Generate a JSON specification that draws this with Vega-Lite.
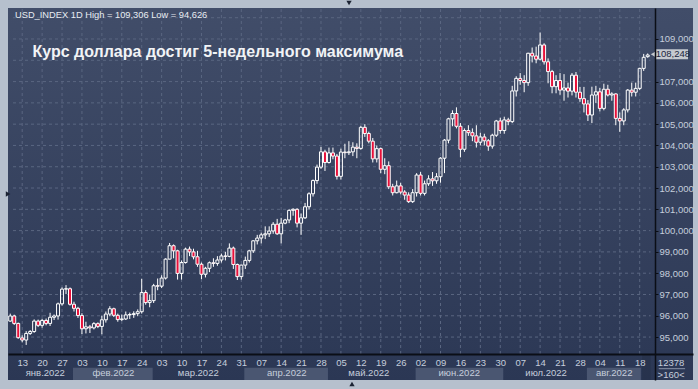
{
  "$schema": "https://vega.github.io/schema/vega-lite/v6.json",
  "width": 685,
  "height": 372,
  "autosize": "none",
  "padding": {"left": 8, "top": 8, "right": 5, "bottom": 9},
  "background": "#b6c0cd",
  "view": {
    "stroke": null,
    "fill": {"gradient": "linear", "x1": 0, "y1": 0, "x2": 0, "y2": 1,
      "stops": [{"offset": 0, "color": "#414d69"}, {"offset": 0.93, "color": "#2d3956"}, {"offset": 1, "color": "#2b3754"}]}
  },
  "config": {"font": "Liberation Sans"},
  "resolve": {"axis": {"x": "independent", "y": "independent"}},
  "data": {"values": [{"one": 1}]},
  "datasets": {
    "ohlc": [
      {"i":0,"d":"2022-01-10","o":95.75,"h":96.10,"l":95.72,"c":95.99},
      {"i":1,"d":"2022-01-11","o":95.99,"h":96.05,"l":95.57,"c":95.64},
      {"i":2,"d":"2022-01-12","o":95.64,"h":95.68,"l":94.92,"c":94.97},
      {"i":3,"d":"2022-01-13","o":94.96,"h":95.08,"l":94.75,"c":94.86},
      {"i":4,"d":"2022-01-14","o":94.86,"h":95.28,"l":94.63,"c":95.17},
      {"i":5,"d":"2022-01-17","o":95.17,"h":95.33,"l":95.10,"c":95.26},
      {"i":6,"d":"2022-01-18","o":95.26,"h":95.83,"l":95.20,"c":95.75},
      {"i":7,"d":"2022-01-19","o":95.75,"h":95.82,"l":95.47,"c":95.55},
      {"i":8,"d":"2022-01-20","o":95.55,"h":95.86,"l":95.44,"c":95.78},
      {"i":9,"d":"2022-01-21","o":95.78,"h":95.87,"l":95.55,"c":95.64},
      {"i":10,"d":"2022-01-24","o":95.64,"h":96.14,"l":95.52,"c":95.93},
      {"i":11,"d":"2022-01-25","o":95.93,"h":96.06,"l":95.80,"c":95.99},
      {"i":12,"d":"2022-01-26","o":95.99,"h":96.62,"l":95.82,"c":96.56},
      {"i":13,"d":"2022-01-27","o":96.56,"h":97.33,"l":96.48,"c":97.25},
      {"i":14,"d":"2022-01-28","o":97.25,"h":97.44,"l":97.02,"c":97.27},
      {"i":15,"d":"2022-01-31","o":97.27,"h":97.33,"l":96.48,"c":96.54},
      {"i":16,"d":"2022-02-01","o":96.54,"h":96.66,"l":96.20,"c":96.35},
      {"i":17,"d":"2022-02-02","o":96.35,"h":96.42,"l":95.90,"c":96.01},
      {"i":18,"d":"2022-02-03","o":96.01,"h":96.12,"l":95.14,"c":95.39},
      {"i":19,"d":"2022-02-04","o":95.39,"h":95.72,"l":95.17,"c":95.48},
      {"i":20,"d":"2022-02-07","o":95.48,"h":95.57,"l":95.19,"c":95.43},
      {"i":21,"d":"2022-02-08","o":95.43,"h":95.70,"l":95.36,"c":95.63},
      {"i":22,"d":"2022-02-09","o":95.63,"h":95.69,"l":95.42,"c":95.50},
      {"i":23,"d":"2022-02-10","o":95.50,"h":96.00,"l":95.13,"c":95.81},
      {"i":24,"d":"2022-02-11","o":95.81,"h":96.20,"l":95.68,"c":96.08},
      {"i":25,"d":"2022-02-14","o":96.08,"h":96.45,"l":95.98,"c":96.33},
      {"i":26,"d":"2022-02-15","o":96.33,"h":96.38,"l":95.94,"c":96.02},
      {"i":27,"d":"2022-02-16","o":96.02,"h":96.10,"l":95.72,"c":95.82},
      {"i":28,"d":"2022-02-17","o":95.82,"h":96.06,"l":95.75,"c":95.85},
      {"i":29,"d":"2022-02-18","o":95.85,"h":96.20,"l":95.80,"c":96.04},
      {"i":30,"d":"2022-02-21","o":96.04,"h":96.15,"l":95.85,"c":96.06},
      {"i":31,"d":"2022-02-22","o":96.06,"h":96.21,"l":95.90,"c":96.10},
      {"i":32,"d":"2022-02-23","o":96.10,"h":96.30,"l":95.98,"c":96.19},
      {"i":33,"d":"2022-02-24","o":96.19,"h":97.74,"l":96.10,"c":97.09},
      {"i":34,"d":"2022-02-25","o":97.09,"h":97.20,"l":96.52,"c":96.62},
      {"i":35,"d":"2022-02-28","o":96.62,"h":97.00,"l":96.40,"c":96.71},
      {"i":36,"d":"2022-03-01","o":96.71,"h":97.50,"l":96.60,"c":97.41},
      {"i":37,"d":"2022-03-02","o":97.41,"h":97.75,"l":97.20,"c":97.39},
      {"i":38,"d":"2022-03-03","o":97.39,"h":97.90,"l":97.30,"c":97.77},
      {"i":39,"d":"2022-03-04","o":97.77,"h":98.70,"l":97.70,"c":98.66},
      {"i":40,"d":"2022-03-07","o":98.66,"h":99.42,"l":98.65,"c":99.29},
      {"i":41,"d":"2022-03-08","o":99.29,"h":99.35,"l":98.70,"c":99.05},
      {"i":42,"d":"2022-03-09","o":99.05,"h":99.10,"l":97.70,"c":97.99},
      {"i":43,"d":"2022-03-10","o":97.99,"h":98.60,"l":97.70,"c":98.50},
      {"i":44,"d":"2022-03-11","o":98.50,"h":99.20,"l":98.45,"c":99.13},
      {"i":45,"d":"2022-03-14","o":99.13,"h":99.25,"l":98.80,"c":99.00},
      {"i":46,"d":"2022-03-15","o":99.00,"h":99.15,"l":98.65,"c":98.77},
      {"i":47,"d":"2022-03-16","o":98.77,"h":99.05,"l":98.30,"c":98.42},
      {"i":48,"d":"2022-03-17","o":98.42,"h":98.50,"l":97.72,"c":97.95},
      {"i":49,"d":"2022-03-18","o":97.95,"h":98.30,"l":97.80,"c":98.23},
      {"i":50,"d":"2022-03-21","o":98.23,"h":98.55,"l":98.05,"c":98.49},
      {"i":51,"d":"2022-03-22","o":98.49,"h":98.70,"l":98.30,"c":98.46},
      {"i":52,"d":"2022-03-23","o":98.46,"h":98.80,"l":98.35,"c":98.62},
      {"i":53,"d":"2022-03-24","o":98.62,"h":98.92,"l":98.50,"c":98.81},
      {"i":54,"d":"2022-03-25","o":98.81,"h":99.00,"l":98.60,"c":98.79},
      {"i":55,"d":"2022-03-28","o":98.79,"h":99.40,"l":98.75,"c":99.18},
      {"i":56,"d":"2022-03-29","o":99.18,"h":99.25,"l":98.20,"c":98.41},
      {"i":57,"d":"2022-03-30","o":98.41,"h":98.45,"l":97.68,"c":97.84},
      {"i":58,"d":"2022-03-31","o":97.84,"h":98.40,"l":97.70,"c":98.38},
      {"i":59,"d":"2022-04-01","o":98.38,"h":98.78,"l":98.20,"c":98.60},
      {"i":60,"d":"2022-04-04","o":98.60,"h":99.10,"l":98.50,"c":99.05},
      {"i":61,"d":"2022-04-05","o":99.05,"h":99.55,"l":98.95,"c":99.52},
      {"i":62,"d":"2022-04-06","o":99.52,"h":99.80,"l":99.35,"c":99.65},
      {"i":63,"d":"2022-04-07","o":99.65,"h":99.90,"l":99.40,"c":99.80},
      {"i":64,"d":"2022-04-08","o":99.80,"h":100.20,"l":99.60,"c":99.85},
      {"i":65,"d":"2022-04-11","o":99.85,"h":100.20,"l":99.70,"c":99.98},
      {"i":66,"d":"2022-04-12","o":99.98,"h":100.40,"l":99.85,"c":100.30},
      {"i":67,"d":"2022-04-13","o":100.30,"h":100.55,"l":99.80,"c":99.85},
      {"i":68,"d":"2022-04-14","o":99.85,"h":100.60,"l":99.40,"c":100.35},
      {"i":69,"d":"2022-04-15","o":100.35,"h":100.55,"l":100.30,"c":100.50},
      {"i":70,"d":"2022-04-18","o":100.50,"h":101.00,"l":100.35,"c":100.95},
      {"i":71,"d":"2022-04-19","o":100.95,"h":101.05,"l":100.70,"c":101.00},
      {"i":72,"d":"2022-04-20","o":101.00,"h":101.05,"l":100.15,"c":100.35},
      {"i":73,"d":"2022-04-21","o":100.35,"h":100.80,"l":99.80,"c":100.60},
      {"i":74,"d":"2022-04-22","o":100.60,"h":101.30,"l":100.55,"c":101.12},
      {"i":75,"d":"2022-04-25","o":101.12,"h":101.80,"l":101.00,"c":101.73},
      {"i":76,"d":"2022-04-26","o":101.73,"h":102.40,"l":101.60,"c":102.35},
      {"i":77,"d":"2022-04-27","o":102.35,"h":103.10,"l":102.20,"c":102.98},
      {"i":78,"d":"2022-04-28","o":102.98,"h":103.94,"l":102.90,"c":103.70},
      {"i":79,"d":"2022-04-29","o":103.70,"h":103.80,"l":102.80,"c":103.20},
      {"i":80,"d":"2022-05-02","o":103.20,"h":103.90,"l":103.15,"c":103.65},
      {"i":81,"d":"2022-05-03","o":103.65,"h":103.90,"l":103.35,"c":103.50},
      {"i":82,"d":"2022-05-04","o":103.50,"h":103.60,"l":102.40,"c":102.55},
      {"i":83,"d":"2022-05-05","o":102.55,"h":103.85,"l":102.40,"c":103.69},
      {"i":84,"d":"2022-05-06","o":103.69,"h":104.08,"l":103.40,"c":103.66},
      {"i":85,"d":"2022-05-09","o":103.66,"h":104.20,"l":103.55,"c":103.70},
      {"i":86,"d":"2022-05-10","o":103.70,"h":104.15,"l":103.50,"c":103.92},
      {"i":87,"d":"2022-05-11","o":103.92,"h":104.10,"l":103.40,"c":103.86},
      {"i":88,"d":"2022-05-12","o":103.86,"h":104.92,"l":103.80,"c":104.85},
      {"i":89,"d":"2022-05-13","o":104.85,"h":105.00,"l":104.40,"c":104.56},
      {"i":90,"d":"2022-05-16","o":104.56,"h":104.65,"l":104.10,"c":104.20},
      {"i":91,"d":"2022-05-17","o":104.20,"h":104.35,"l":103.20,"c":103.37},
      {"i":92,"d":"2022-05-18","o":103.37,"h":104.00,"l":103.20,"c":103.85},
      {"i":93,"d":"2022-05-19","o":103.85,"h":103.90,"l":102.70,"c":102.88},
      {"i":94,"d":"2022-05-20","o":102.88,"h":103.40,"l":102.65,"c":103.05},
      {"i":95,"d":"2022-05-23","o":103.05,"h":103.25,"l":101.95,"c":102.06},
      {"i":96,"d":"2022-05-24","o":102.06,"h":102.20,"l":101.65,"c":101.78},
      {"i":97,"d":"2022-05-25","o":101.78,"h":102.35,"l":101.75,"c":102.10},
      {"i":98,"d":"2022-05-26","o":102.10,"h":102.25,"l":101.70,"c":101.81},
      {"i":99,"d":"2022-05-27","o":101.81,"h":101.90,"l":101.45,"c":101.67},
      {"i":100,"d":"2022-05-30","o":101.67,"h":101.80,"l":101.30,"c":101.36},
      {"i":101,"d":"2022-05-31","o":101.36,"h":101.95,"l":101.30,"c":101.78},
      {"i":102,"d":"2022-06-01","o":101.78,"h":102.70,"l":101.60,"c":102.61},
      {"i":103,"d":"2022-06-02","o":102.61,"h":102.75,"l":101.65,"c":101.75},
      {"i":104,"d":"2022-06-03","o":101.75,"h":102.35,"l":101.65,"c":102.20},
      {"i":105,"d":"2022-06-06","o":102.20,"h":102.60,"l":102.10,"c":102.43},
      {"i":106,"d":"2022-06-07","o":102.43,"h":102.75,"l":102.10,"c":102.34},
      {"i":107,"d":"2022-06-08","o":102.34,"h":102.70,"l":102.20,"c":102.53},
      {"i":108,"d":"2022-06-09","o":102.53,"h":103.45,"l":102.25,"c":103.40},
      {"i":109,"d":"2022-06-10","o":103.40,"h":104.30,"l":102.70,"c":104.25},
      {"i":110,"d":"2022-06-13","o":104.25,"h":105.30,"l":104.10,"c":105.25},
      {"i":111,"d":"2022-06-14","o":105.25,"h":105.65,"l":104.90,"c":105.50},
      {"i":112,"d":"2022-06-15","o":105.50,"h":105.79,"l":104.80,"c":104.90},
      {"i":113,"d":"2022-06-16","o":104.90,"h":105.05,"l":103.44,"c":103.82},
      {"i":114,"d":"2022-06-17","o":103.82,"h":104.80,"l":103.70,"c":104.70},
      {"i":115,"d":"2022-06-20","o":104.70,"h":104.95,"l":104.45,"c":104.60},
      {"i":116,"d":"2022-06-21","o":104.60,"h":104.80,"l":104.20,"c":104.45},
      {"i":117,"d":"2022-06-22","o":104.45,"h":104.95,"l":103.90,"c":104.15},
      {"i":118,"d":"2022-06-23","o":104.15,"h":104.60,"l":104.00,"c":104.40},
      {"i":119,"d":"2022-06-24","o":104.40,"h":104.55,"l":104.00,"c":104.22},
      {"i":120,"d":"2022-06-27","o":104.22,"h":104.30,"l":103.75,"c":103.97},
      {"i":121,"d":"2022-06-28","o":103.97,"h":104.55,"l":103.85,"c":104.48},
      {"i":122,"d":"2022-06-29","o":104.48,"h":105.20,"l":104.40,"c":105.15},
      {"i":123,"d":"2022-06-30","o":105.15,"h":105.30,"l":104.55,"c":104.70},
      {"i":124,"d":"2022-07-01","o":104.70,"h":105.35,"l":104.55,"c":105.20},
      {"i":125,"d":"2022-07-04","o":105.20,"h":105.30,"l":104.95,"c":105.12},
      {"i":126,"d":"2022-07-05","o":105.12,"h":106.80,"l":105.05,"c":106.56},
      {"i":127,"d":"2022-07-06","o":106.56,"h":107.25,"l":106.30,"c":107.15},
      {"i":128,"d":"2022-07-07","o":107.15,"h":107.40,"l":106.85,"c":107.05},
      {"i":129,"d":"2022-07-08","o":107.05,"h":107.30,"l":106.50,"c":106.95},
      {"i":130,"d":"2022-07-11","o":106.95,"h":108.35,"l":106.80,"c":108.33},
      {"i":131,"d":"2022-07-12","o":108.33,"h":108.60,"l":107.90,"c":108.20},
      {"i":132,"d":"2022-07-13","o":108.20,"h":108.64,"l":107.86,"c":108.05},
      {"i":133,"d":"2022-07-14","o":108.05,"h":109.306,"l":107.99,"c":108.72},
      {"i":134,"d":"2022-07-15","o":108.72,"h":108.80,"l":107.80,"c":107.93},
      {"i":135,"d":"2022-07-18","o":107.93,"h":108.09,"l":106.92,"c":107.47},
      {"i":136,"d":"2022-07-19","o":107.47,"h":107.55,"l":106.45,"c":106.76},
      {"i":137,"d":"2022-07-20","o":106.76,"h":107.30,"l":106.45,"c":107.05},
      {"i":138,"d":"2022-07-21","o":107.05,"h":107.40,"l":106.38,"c":106.60},
      {"i":139,"d":"2022-07-22","o":106.60,"h":107.35,"l":106.10,"c":106.70},
      {"i":140,"d":"2022-07-25","o":106.70,"h":106.95,"l":106.25,"c":106.55},
      {"i":141,"d":"2022-07-26","o":106.55,"h":107.40,"l":106.35,"c":107.30},
      {"i":142,"d":"2022-07-27","o":107.30,"h":107.45,"l":106.25,"c":106.50},
      {"i":143,"d":"2022-07-28","o":106.50,"h":106.75,"l":106.05,"c":106.20},
      {"i":144,"d":"2022-07-29","o":106.20,"h":106.75,"l":105.55,"c":105.95},
      {"i":145,"d":"2022-08-01","o":105.95,"h":106.13,"l":105.15,"c":105.43},
      {"i":146,"d":"2022-08-02","o":105.43,"h":106.76,"l":105.05,"c":106.37},
      {"i":147,"d":"2022-08-03","o":106.37,"h":106.80,"l":106.00,"c":106.52},
      {"i":148,"d":"2022-08-04","o":106.52,"h":106.70,"l":105.60,"c":105.74},
      {"i":149,"d":"2022-08-05","o":105.74,"h":106.90,"l":105.65,"c":106.64},
      {"i":150,"d":"2022-08-08","o":106.64,"h":106.85,"l":106.30,"c":106.37},
      {"i":151,"d":"2022-08-09","o":106.37,"h":106.50,"l":106.10,"c":106.42},
      {"i":152,"d":"2022-08-10","o":106.42,"h":106.45,"l":104.95,"c":105.27},
      {"i":153,"d":"2022-08-11","o":105.27,"h":105.55,"l":104.64,"c":105.15},
      {"i":154,"d":"2022-08-12","o":105.15,"h":105.75,"l":104.95,"c":105.67},
      {"i":155,"d":"2022-08-15","o":105.67,"h":106.65,"l":105.55,"c":106.60},
      {"i":156,"d":"2022-08-16","o":106.60,"h":106.95,"l":106.30,"c":106.50},
      {"i":157,"d":"2022-08-17","o":106.50,"h":106.95,"l":106.30,"c":106.68},
      {"i":158,"d":"2022-08-18","o":106.68,"h":107.65,"l":106.60,"c":107.62},
      {"i":159,"d":"2022-08-19","o":107.62,"h":108.30,"l":107.50,"c":108.14},
      {"i":160,"d":"2022-08-22","o":108.17,"h":108.32,"l":108.12,"c":108.248}
    ],
    "weeks": [
      {"i":3},{"i":8},{"i":13},{"i":18},{"i":23},{"i":28},{"i":33},{"i":38},
      {"i":43},{"i":48},{"i":53},{"i":58},{"i":63},{"i":68},{"i":73},{"i":78},
      {"i":83},{"i":88},{"i":93},{"i":98},{"i":103},{"i":108},{"i":113},{"i":118},
      {"i":123},{"i":128},{"i":133},{"i":138},{"i":143},{"i":148},{"i":153},{"i":158}
    ],
    "levels": [
      {"v":95},{"v":96},{"v":97},{"v":98},{"v":99},{"v":100},{"v":101},{"v":102},
      {"v":103},{"v":104},{"v":105},{"v":106},{"v":107},{"v":108},{"v":109},{"v":110}
    ],
    "months": [
      {"m":"янв.2022","s":0.69,"e":15.75,"mid":8.8,"alt":false},
      {"m":"фев.2022","s":15.75,"e":35.75,"mid":25.9,"alt":true},
      {"m":"мар.2022","s":35.75,"e":58.75,"mid":47.2,"alt":false},
      {"m":"апр.2022","s":58.75,"e":79.75,"mid":69.4,"alt":true},
      {"m":"май.2022","s":79.75,"e":101.75,"mid":90.0,"alt":false},
      {"m":"июн.2022","s":101.75,"e":123.75,"mid":112.7,"alt":true},
      {"m":"июл.2022","s":123.75,"e":144.75,"mid":134.5,"alt":false},
      {"m":"авг.2022","s":144.75,"e":158.3,"mid":151.6,"alt":true}
    ]
  },
  "layer": [
    {
      "data": {"name": "ohlc"},
      "mark": {"type": "bar", "width": 3, "stroke": "#ffffff", "strokeWidth": 1, "clip": true},
      "encoding": {
        "x": {
          "field": "i", "type": "quantitative",
          "scale": {"domain": [0.6926, 170.12], "nice": false, "zero": false},
          "axis": {
            "orient": "bottom", "offset": -26, "title": null, "grid": false,
            "ticks": false, "tickSize": 0,
            "values": [3,8,13,18,23,28,33,38,43,48,53,58,63,68,73,78,83,88,93,98,103,108,113,118,123,128,133,138,143,148,153,158],
            "labelExpr": "['13','20','27','03','10','17','24','03','10','17','24','31','07','14','21','28','05','12','19','26','02','09','16','23','30','07','14','21','28','04','11','18'][round((datum.value - 3) / 5)]",
            "labelColor": "#c6cedc", "labelFontSize": 9.5, "labelFont": "Liberation Sans",
            "labelBaseline": "middle", "labelPadding": 8,
            "labelFlush": false, "labelOverlap": false,
            "domainColor": "#0b0e16", "domainWidth": 2, "zindex": 1
          }
        },
        "y": {
          "field": "o", "type": "quantitative",
          "scale": {"domain": [92.983, 110.456], "nice": false, "zero": false},
          "axis": {
            "orient": "right", "offset": -38, "title": null, "grid": false,
            "values": [95,96,97,98,99,100,101,102,103,104,105,106,107,109],
            "labelExpr": "replace(format(datum.value, '.3f'), '.', ',')",
            "labelColor": "#c6cedc", "labelFontSize": 9.5, "labelFont": "Liberation Sans",
            "labelPadding": 1, "tickSize": 3, "tickColor": "#0b0e16",
            "labelFlush": false, "labelOverlap": false,
            "domainColor": "#0b0e16", "domainWidth": 1.5, "zindex": 1
          }
        },
        "y2": {"field": "c"},
        "opacity": {"value": 0}
      }
    },
    {
      "data": {"name": "months"},
      "transform": [{"filter": "datum.alt"}],
      "mark": {"type": "rect", "fill": "#4a5671"},
      "encoding": {
        "x": {"field": "s", "type": "quantitative", "axis": null},
        "x2": {"field": "e"},
        "y": {"datum": 93.561, "axis": null},
        "y2": {"datum": 92.983}
      }
    },
    {
      "data": {"name": "months"},
      "mark": {"type": "text", "color": "#c6cedc", "fontSize": 9.5, "baseline": "middle", "align": "center"},
      "encoding": {
        "x": {"field": "mid", "type": "quantitative", "axis": null},
        "y": {"datum": 93.30, "axis": null},
        "text": {"field": "m"}
      }
    },
    {
      "data": {"name": "levels"},
      "mark": {"type": "rule", "color": "#5a6681", "strokeDash": [3, 3], "strokeWidth": 1},
      "encoding": {
        "y": {"field": "v", "type": "quantitative", "axis": null},
        "x": {"datum": 0.6926, "axis": null},
        "x2": {"datum": 160.72}
      }
    },
    {
      "data": {"name": "weeks"},
      "mark": {"type": "rule", "color": "#5a6681", "strokeDash": [3, 3], "strokeWidth": 1},
      "encoding": {
        "x": {"field": "i", "type": "quantitative", "axis": null},
        "y": {"datum": 94.204, "axis": null},
        "y2": {"datum": 110.456}
      }
    },
    {
      "data": {"name": "ohlc"},
      "transform": [{"filter": "datum.c >= datum.o"}],
      "mark": {"type": "rule", "color": "#ffffff", "strokeWidth": 1, "clip": true},
      "encoding": {
        "x": {"field": "i", "type": "quantitative", "axis": null},
        "y": {"field": "h", "type": "quantitative", "axis": null},
        "y2": {"field": "c"}
      }
    },
    {
      "data": {"name": "ohlc"},
      "transform": [{"filter": "datum.c >= datum.o"}],
      "mark": {"type": "rule", "color": "#ffffff", "strokeWidth": 1, "clip": true},
      "encoding": {
        "x": {"field": "i", "type": "quantitative", "axis": null},
        "y": {"field": "o", "type": "quantitative", "axis": null},
        "y2": {"field": "l"}
      }
    },
    {
      "data": {"name": "ohlc"},
      "transform": [{"filter": "datum.c < datum.o"}],
      "mark": {"type": "rule", "color": "#ffffff", "strokeWidth": 1, "clip": true},
      "encoding": {
        "x": {"field": "i", "type": "quantitative", "axis": null},
        "y": {"field": "h", "type": "quantitative", "axis": null},
        "y2": {"field": "o"}
      }
    },
    {
      "data": {"name": "ohlc"},
      "transform": [{"filter": "datum.c < datum.o"}],
      "mark": {"type": "rule", "color": "#ffffff", "strokeWidth": 1, "clip": true},
      "encoding": {
        "x": {"field": "i", "type": "quantitative", "axis": null},
        "y": {"field": "c", "type": "quantitative", "axis": null},
        "y2": {"field": "l"}
      }
    },
    {
      "data": {"name": "ohlc"},
      "mark": {"type": "bar", "width": 3, "stroke": "#ffffff", "strokeWidth": 1, "clip": true},
      "encoding": {
        "x": {"field": "i", "type": "quantitative", "axis": null},
        "y": {"field": "o", "type": "quantitative", "axis": null},
        "y2": {"field": "c"},
        "fill": {"condition": {"test": "datum.c < datum.o", "value": "#e8103a"}, "value": "transparent"}
      }
    },
    {
      "mark": {"type": "rect", "fill": "#27324b", "opacity": 0.75},
      "encoding": {
        "x": {"datum": 158.6, "axis": null},
        "x2": {"datum": 160.72},
        "y": {"datum": 94.204, "axis": null},
        "y2": {"datum": 92.983}
      }
    },
    {
      "mark": {"type": "text", "text": "USD_INDEX 1D High = 109,306 Low = 94,626", "color": "#e8ecf2", "fontSize": 9.3, "align": "left", "baseline": "alphabetic"},
      "encoding": {
        "x": {"datum": 1.19, "axis": null},
        "y": {"datum": 109.972, "axis": null}
      }
    },
    {
      "mark": {"type": "text", "text": "Курс доллара достиг 5-недельного максимума", "color": "#f1f3f6", "fontSize": 16, "fontWeight": "bold", "align": "left", "baseline": "alphabetic"},
      "encoding": {
        "x": {"datum": 5.57, "axis": null},
        "y": {"datum": 108.14, "axis": null}
      }
    },
    {
      "mark": {"type": "rect", "fill": "#c5c9cf"},
      "encoding": {
        "x": {"datum": 161.9, "axis": null},
        "x2": {"datum": 170.12},
        "y": {"datum": 108.516, "axis": null},
        "y2": {"datum": 108.047}
      }
    },
    {
      "mark": {"type": "point", "shape": "triangle-left", "filled": true, "fill": "#c5c9cf", "opacity": 1, "size": 45},
      "encoding": {
        "x": {"datum": 161.5, "axis": null},
        "y": {"datum": 108.28, "axis": null}
      }
    },
    {
      "mark": {"type": "text", "text": "108,248", "color": "#1b2540", "fontSize": 9.5, "align": "left", "baseline": "middle"},
      "encoding": {
        "x": {"datum": 162.0, "axis": null},
        "y": {"datum": 108.28, "axis": null}
      }
    },
    {
      "mark": {"type": "text", "text": "12378", "color": "#c6cedc", "fontSize": 9.5, "align": "center", "baseline": "middle"},
      "encoding": {
        "x": {"datum": 165.87, "axis": null},
        "y": {"datum": 93.78, "axis": null}
      }
    },
    {
      "mark": {"type": "text", "text": ">160<", "color": "#c6cedc", "fontSize": 9.5, "align": "center", "baseline": "middle"},
      "encoding": {
        "x": {"datum": 165.87, "axis": null},
        "y": {"datum": 93.24, "axis": null}
      }
    },
    {
      "mark": {"type": "rule", "color": "#8a94a8", "strokeWidth": 1},
      "encoding": {
        "x": {"datum": 162.78, "axis": null},
        "x2": {"datum": 169.39},
        "y": {"datum": 93.514, "axis": null}
      }
    },
    {
      "mark": {"type": "point", "shape": "triangle-down", "filled": true, "fill": "#1c2333", "opacity": 1, "size": 28},
      "encoding": {"x": {"datum": 85.04, "axis": null}, "y": {"datum": 110.69, "axis": null}}
    },
    {
      "mark": {"type": "point", "shape": "triangle-up", "filled": true, "fill": "#1c2333", "opacity": 1, "size": 28},
      "encoding": {"x": {"datum": 85.78, "axis": null}, "y": {"datum": 92.795, "axis": null}}
    },
    {
      "mark": {"type": "point", "shape": "triangle-right", "filled": true, "fill": "#1c2333", "opacity": 1, "size": 28},
      "encoding": {"x": {"datum": -0.544, "axis": null}, "y": {"datum": 101.72, "axis": null}}
    }
  ]
}
